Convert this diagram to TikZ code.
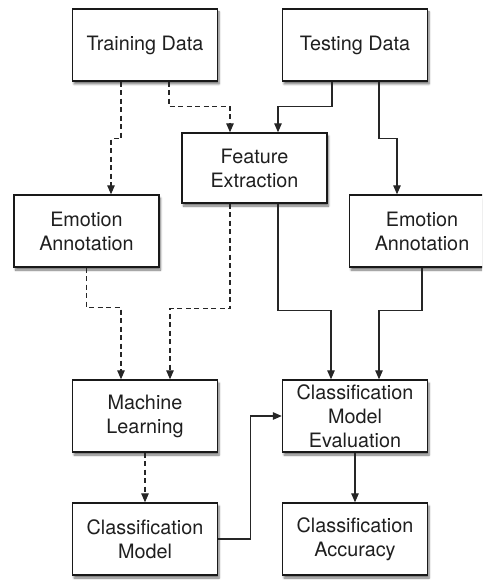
\documentclass[tikz,border=0pt]{standalone}
\usepackage{fontspec}
\setmainfont{TeX Gyre Heros}
\usetikzlibrary{arrows.meta,shadows.blur}
\begin{document}
\begin{tikzpicture}[x=1pt,y=-1pt,
  box/.style={draw=black!90,line width=1.4pt,fill=white,minimum width=145pt,minimum height=72pt,
    align=center,font=\fontsize{19.8}{24}\selectfont,text=black!88,inner sep=2pt,
    blur shadow={shadow xshift=1.5pt,shadow yshift=-3pt,shadow blur steps=6,shadow opacity=55}},
  conn/.style={line width=1.3pt,draw=black!85,-{Triangle[length=9pt,width=7.5pt]}},
  dconn/.style={conn,dash pattern=on 5pt off 3.5pt}]
\useasboundingbox (0,0) rectangle (482,580);
\clip (0,0) rectangle (482,580);
\node[box] (TD) at (145,45) {Training Data};
\node[box] (TeD) at (355,45) {Testing Data};
\node[box,minimum height=70pt] (FE) at (254.5,168) {Feature\\Extraction};
\node[box] (EAL) at (86.5,231) {Emotion\\Annotation};
\node[box] (EAR) at (422,231) {Emotion\\Annotation};
\node[box] (ML) at (145,416) {Machine\\Learning};
\node[box] (EV) at (355,416) {Classification\\Model\\Evaluation};
\node[box] (CM) at (145,539) {Classification\\Model};
\node[box] (CA) at (355,539) {Classification\\Accuracy};
\draw[dconn] ([xshift=-24pt]TD.south) -- ++(0,57) -| ([xshift=24.5pt]EAL.north);
\draw[dconn] ([xshift=24pt]TD.south) -- ++(0,25) -| ([xshift=-24.5pt]FE.north);
\draw[conn] ([xshift=-23pt]TeD.south) -- ++(0,25) -| ([xshift=23.5pt]FE.north);
\draw[conn] ([xshift=24pt]TeD.south) -- ++(0,57) -| ([xshift=-25pt]EAR.north);
\draw[dconn] (EAL.south) -- ++(0,40) -| ([xshift=-24pt]ML.north);
\draw[dconn] ([xshift=-24.5pt]FE.south) -- ++(0,105) -| ([xshift=25pt]ML.north);
\draw[conn] ([xshift=23.5pt]FE.south) -- ++(0,107) -| ([xshift=-24pt]EV.north);
\draw[conn] (EAR.south) -- ++(0,43) -| ([xshift=24pt]EV.north);
\draw[dconn] (ML.south) -- (CM.north);
\draw[conn] (CM.east) -- ++(32,0) |- (EV.west);
\draw[conn] (EV.south) -- (CA.north);
\end{tikzpicture}
\end{document}
